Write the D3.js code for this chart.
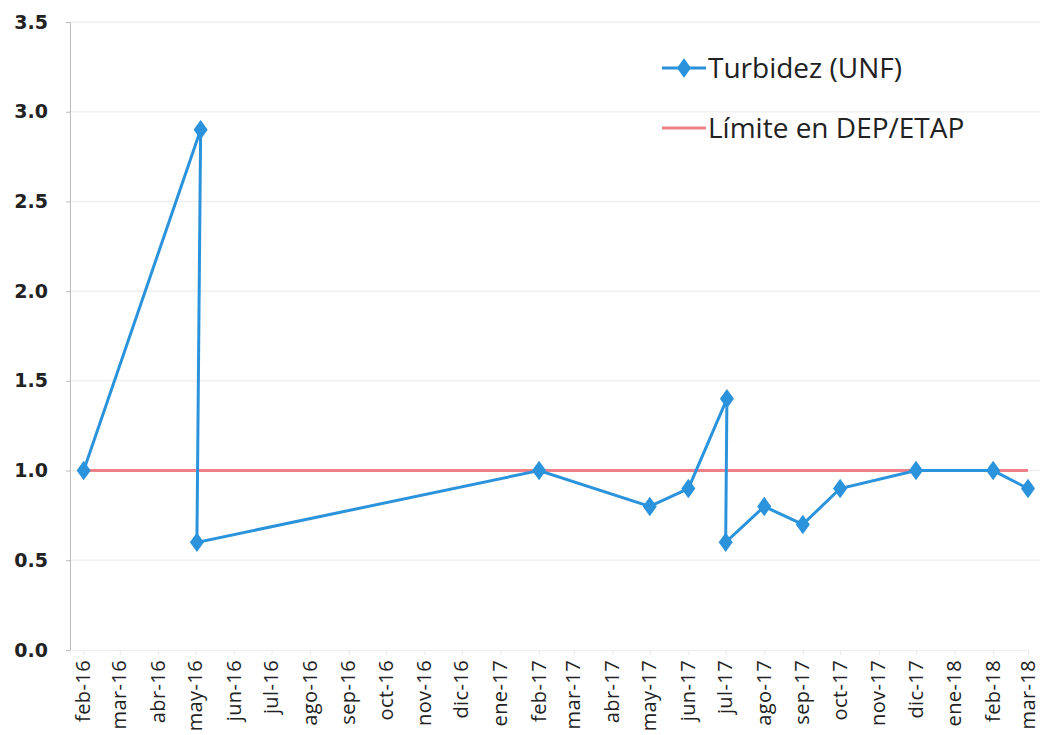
<!DOCTYPE html>
<html>
<head>
<meta charset="utf-8">
<script src="https://cdn.jsdelivr.net/npm/d3@7"></script>
<style>
  body { margin: 0; background: #fff; }
  .ylab { font-family: "DejaVu Sans", sans-serif; font-weight: bold; font-size: 19px; fill: #222; }
  .xlab { font-family: "Open Sans", sans-serif; font-size: 20px; letter-spacing: 0.4px; fill: #222; }
  .legend { font-family: "Open Sans", sans-serif; font-size: 28px; fill: #222; }
</style>
</head>
<body>
<div id="chart"></div>
<script>
// turbidity readings (date, value)
const sampleDates = ["2016-02-01", "2016-05-05", "2016-05-02", "2017-02-01", "2017-05-01", "2017-06-01",
                     "2017-07-02", "2017-07-01", "2017-08-01", "2017-09-01", "2017-10-01", "2017-12-01",
                     "2018-02-01", "2018-03-01"];
const turbidez = [1.0, 2.9, 0.6, 1.0, 0.8, 0.9, 1.4, 0.6, 0.8, 0.7, 0.9, 1.0, 1.0, 0.9];
const limite = 1.0;
const limiteRange = ["2016-02-01", "2018-03-01"];
const yTicks = [0, 0.5, 1.0, 1.5, 2.0, 2.5, 3.0, 3.5];
const monthNames = ["ene", "feb", "mar", "abr", "may", "jun", "jul", "ago", "sep", "oct", "nov", "dic"];
const seriesNames = ["Turbidez (UNF)", "Límite en DEP/ETAP"];

const W = 1042, H = 735;
const margin = { top: 22, right: 2, bottom: 85, left: 70 };
const blue = "#2b93dc", red = "#f08088";

const parse = d3.timeParse("%Y-%m-%d");
const data = sampleDates.map((d, i) => ({ date: parse(d), value: turbidez[i] }));

const svg = d3.select("#chart").append("svg")
  .attr("width", W).attr("height", H);

const x = d3.scaleTime()
  .domain([parse("2016-01-21"), parse("2018-03-01")])
  .range([margin.left, 1028]);
const y = d3.scaleLinear()
  .domain([0, 3.5])
  .range([H - margin.bottom, margin.top]);

// gridlines
svg.append("g")
  .selectAll("line")
  .data(yTicks.slice(1))
  .enter().append("line")
    .attr("x1", margin.left).attr("x2", W - margin.right)
    .attr("y1", d => y(d)).attr("y2", d => y(d))
    .attr("stroke", "#efefef").attr("stroke-width", 1.5);

// y axis
const yAxis = svg.append("g")
  .attr("transform", "translate(" + margin.left + ",0)")
  .call(d3.axisLeft(y).tickValues(yTicks).tickFormat(d3.format(".1f")).tickSize(4));
yAxis.select(".domain").attr("stroke", "#bbb");
yAxis.selectAll(".tick line").attr("stroke", "#bbb");
yAxis.selectAll(".tick text")
  .attr("class", "ylab")
  .attr("x", -22);

// x axis
const months = d3.timeMonth.range(parse("2016-02-01"), parse("2018-03-02"));
const xAxis = svg.append("g")
  .attr("transform", "translate(0," + (H - margin.bottom) + ")")
  .call(d3.axisBottom(x).tickValues(months).tickSize(5)
    .tickFormat(d => monthNames[d.getMonth()] + "-" + d3.timeFormat("%y")(d)));
xAxis.select(".domain").attr("stroke", "#f0f0f0");
xAxis.selectAll(".tick line").attr("stroke", "#e8e8e8");
xAxis.selectAll(".tick text")
  .attr("class", "xlab")
  .attr("transform", "rotate(-90)")
  .attr("text-anchor", "end")
  .attr("x", -10)
  .attr("y", 0)
  .attr("dy", "0.3em");

// limit line
svg.append("line")
  .attr("x1", x(parse(limiteRange[0]))).attr("x2", x(parse(limiteRange[1])))
  .attr("y1", y(limite)).attr("y2", y(limite))
  .attr("stroke", red).attr("stroke-width", 3);

// turbidity line
const line = d3.line()
  .x(d => x(d.date))
  .y(d => y(d.value));

svg.append("path")
  .attr("d", line(data))
  .attr("fill", "none")
  .attr("stroke", blue)
  .attr("stroke-width", 3);

const diamond = d3.symbol().type(d3.symbolDiamond).size(110);
svg.selectAll(".dot")
  .data(data)
  .enter().append("path")
    .attr("class", "dot")
    .attr("d", diamond)
    .attr("transform", d => "translate(" + x(d.date) + "," + y(d.value) + ") scale(1.25,1)")
    .attr("fill", blue);

// legend
const legend = svg.append("g").attr("transform", "translate(662,68)");
legend.append("line")
  .attr("x1", 0).attr("x2", 44).attr("y1", 0).attr("y2", 0)
  .attr("stroke", blue).attr("stroke-width", 3);
legend.append("path")
  .attr("d", diamond)
  .attr("transform", "translate(22,0) scale(1.25,1)")
  .attr("fill", blue);
legend.append("text")
  .attr("class", "legend")
  .attr("x", 46).attr("y", 0).attr("dy", "0.35em")
  .text(seriesNames[0]);
legend.append("line")
  .attr("x1", 0).attr("x2", 44).attr("y1", 60).attr("y2", 60)
  .attr("stroke", red).attr("stroke-width", 3);
legend.append("text")
  .attr("class", "legend")
  .attr("x", 46).attr("y", 60).attr("dy", "0.35em")
  .text(seriesNames[1]);
</script>
</body>
</html>
